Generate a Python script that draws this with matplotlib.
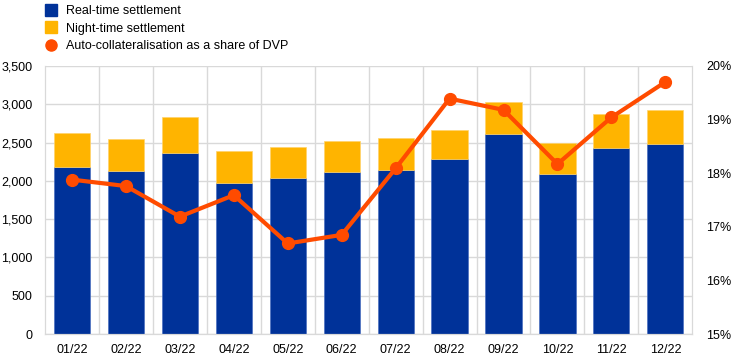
import matplotlib
matplotlib.use('Agg')
import matplotlib.pyplot as plt
from matplotlib.lines import Line2D
from matplotlib.ticker import FuncFormatter
import numpy as np

plt.rcParams['font.family'] = ['Liberation Sans', 'DejaVu Sans']

meses = ['01/22', '02/22', '03/22', '04/22', '05/22', '06/22',
         '07/22', '08/22', '09/22', '10/22', '11/22', '12/22']
tiempo_real = [2184, 2132, 2366, 1975, 2037, 2115, 2137, 2284, 2606, 2085, 2431, 2484]
total = [2619, 2541, 2827, 2388, 2441, 2519, 2558, 2666, 3027, 2497, 2875, 2927]
nocturna = [t - r for t, r in zip(total, tiempo_real)]
auto_col = [17.88, 17.76, 17.19, 17.59, 16.69, 16.85, 18.09, 19.39, 19.18, 18.17, 19.04, 19.70]

azul = '#003299'
amarillo = '#FFB400'
naranja = '#FF4B00'
gris = '#D9D9D9'

fig = plt.figure(figsize=(7.44, 3.62), dpi=100)
ax = fig.add_axes([0.0605, 0.077, 0.870, 0.741])
x = np.arange(len(meses))

ax.bar(x, tiempo_real, width=0.67, color=azul, edgecolor='#4a6fc0', linewidth=0.5, zorder=2)
ax.bar(x, nocturna, bottom=tiempo_real, width=0.67, color=amarillo,
       edgecolor='#ffd36b', linewidth=0.5, zorder=2)

ax.set_xlim(-0.5, len(meses) - 0.5)
ax.set_ylim(0, 3500)
ax.set_yticks(np.arange(0, 3501, 500))
ax.yaxis.set_major_formatter(FuncFormatter(lambda v, p: f'{int(v):,}'))
ax.set_xticks(x)
ax.set_xticklabels(meses)
ax.set_xticks(x[:-1] + 0.5, minor=True)
ax.grid(axis='y', color=gris, linewidth=1, zorder=0)
ax.grid(axis='x', which='minor', color=gris, linewidth=1, zorder=0)
ax.tick_params(which='both', length=0, labelsize=9, colors='black')
ax.tick_params(axis='y', pad=9)
ax.tick_params(axis='x', pad=7)
for s in ax.spines.values():
    s.set_color(gris)
ax.spines['top'].set_visible(False)

ax2 = ax.twinx()
ax2.plot(x, auto_col, color=naranja, linewidth=3, marker='o', markersize=8.5, zorder=3)
ax2.set_ylim(15, 20)
ax2.set_yticks(np.arange(15, 20.1, 1))
ax2.yaxis.set_major_formatter(FuncFormatter(lambda v, p: f'{int(v)}%'))
ax2.tick_params(length=0, labelsize=9, pad=10)
for s in ax2.spines.values():
    s.set_color(gris)
ax2.spines['top'].set_visible(False)

handles = [
    Line2D([], [], linestyle='none', marker='s', markersize=8, color=azul),
    Line2D([], [], linestyle='none', marker='s', markersize=8, color=amarillo),
    Line2D([], [], linestyle='none', marker='o', markersize=8, color=naranja),
]
etiquetas = ['Real-time settlement', 'Night-time settlement',
             'Auto-collateralisation as a share of DVP']
fig.legend(handles, etiquetas, loc='upper left', bbox_to_anchor=(0.052, 1.0),
           frameon=False, fontsize=9, handletextpad=0.6, labelspacing=0.45,
           handlelength=1.2, borderaxespad=0)

fig.savefig('out.png', dpi=100)
